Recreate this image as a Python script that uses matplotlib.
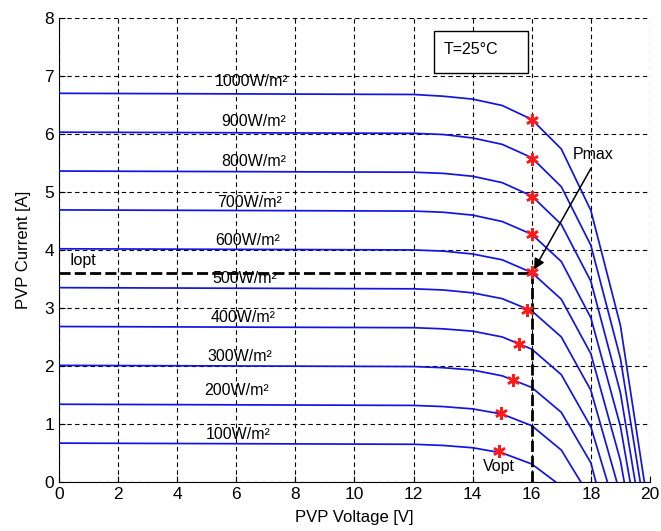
import matplotlib
matplotlib.use("Agg")
import matplotlib.pyplot as plt
from matplotlib.patches import Rectangle

plt.rcParams['font.family'] = ['Liberation Sans', 'DejaVu Sans']

# I-V Kennlinien bei T=25°C
irradiance = [1000, 900, 800, 700, 600, 500, 400, 300, 200, 100]
curve_v = [
    [0, 12, 13, 14, 15, 16, 17, 18, 19, 19.81],
    [0, 12, 13, 14, 15, 16, 17, 18, 19, 19.67],
    [0, 12, 13, 14, 15, 16, 17, 18, 19, 19.50],
    [0, 12, 13, 14, 15, 16, 17, 18, 19, 19.33],
    [0, 12, 13, 14, 15, 16, 17, 18, 19, 19.13],
    [0, 12, 13, 14, 15, 16, 17, 18, 18.88],
    [0, 12, 13, 14, 15, 16, 17, 18, 18.56],
    [0, 12, 13, 14, 15, 16, 17, 18, 18.17],
    [0, 12, 13, 14, 15, 16, 17, 17.66],
    [0, 12, 13, 14, 15, 16, 16.81],
]
curve_i = [
    [6.70, 6.68, 6.65, 6.60, 6.49, 6.25, 5.74, 4.68, 2.70, 0],
    [6.03, 6.01, 5.99, 5.93, 5.82, 5.59, 5.09, 4.08, 2.13, 0],
    [5.36, 5.34, 5.32, 5.27, 5.16, 4.93, 4.44, 3.46, 1.54, 0],
    [4.69, 4.67, 4.65, 4.60, 4.49, 4.27, 3.80, 2.83, 0.96, 0],
    [4.02, 4.00, 3.98, 3.93, 3.83, 3.61, 3.15, 2.21, 0.37, 0],
    [3.35, 3.33, 3.31, 3.26, 3.16, 2.95, 2.50, 1.58, 0],
    [2.68, 2.66, 2.64, 2.60, 2.50, 2.29, 1.85, 0.95, 0],
    [2.01, 1.99, 1.97, 1.93, 1.83, 1.63, 1.20, 0.33, 0],
    [1.34, 1.32, 1.30, 1.26, 1.17, 0.97, 0.55, 0],
    [0.67, 0.65, 0.63, 0.59, 0.50, 0.31, 0],
]

# Punkte maximaler Leistung
mpp_v = [16.0, 16.0, 16.0, 16.0, 16.0, 15.84, 15.56, 15.36, 14.97, 14.88]
mpp_i = [6.24, 5.56, 4.91, 4.27, 3.62, 2.96, 2.38, 1.75, 1.19, 0.54]

# Beschriftungen der Kurven
label_v = [6.5, 6.6, 6.6, 6.46, 6.37, 6.27, 6.23, 6.11, 6.0, 6.06]
label_i = [6.90, 6.21, 5.52, 4.82, 4.16, 3.50, 2.83, 2.17, 1.58, 0.82]

v_opt = 16.0
i_opt = 3.60

fig = plt.figure(figsize=(6.61, 5.31), dpi=100)
ax = fig.add_axes([0.0893, 0.0923, 0.894, 0.874])

for v, i in zip(curve_v, curve_i):
    ax.plot(v, i, color='#1414e0', lw=1.25, zorder=3)

ax.plot(mpp_v, mpp_i, linestyle='none', marker=(6, 2, 0), color='#ff1a1a',
        markersize=9, mew=1.8, zorder=5)

for g, x, y in zip(irradiance, label_v, label_i):
    ax.text(x, y, f'{g}W/m²', ha='center', va='center', fontsize=11.5, zorder=4)

# Iopt / Vopt
ax.plot([0, v_opt], [i_opt, i_opt], color='k', lw=2, linestyle=(0, (4, 1.5)), zorder=4)
ax.plot([v_opt, v_opt], [0, i_opt], color='k', lw=2, linestyle=(0, (4, 1.5)), zorder=4)
ax.text(0.36, 3.81, 'Iopt', ha='left', va='center', fontsize=11.5)
ax.text(14.9, 0.26, 'Vopt', ha='center', va='center', fontsize=11.5)

# Pmax Pfeil
ax.annotate('', xy=(v_opt + 0.03, i_opt + 0.02), xytext=(18.05, 5.45),
            arrowprops=dict(arrowstyle='-|>', color='k', lw=1.1, mutation_scale=16),
            zorder=6)
ax.text(18.08, 5.64, 'Pmax', ha='center', va='center', fontsize=11.5)

# Temperatur-Box
ax.add_patch(Rectangle((12.68, 7.05), 3.2, 0.72, fill=True, facecolor='white',
                       edgecolor='k', lw=1.0, zorder=4))
ax.text(13.03, 7.45, 'T=25°C', ha='left', va='center', fontsize=11.5, zorder=5)

ax.set_xlim(0, 20)
ax.set_ylim(0, 8)
ax.set_xticks(range(0, 21, 2))
ax.set_yticks(range(0, 9))
ax.tick_params(direction='in', labelsize=12.5, length=4)
ax.grid(True, color='k', linestyle=(0, (4, 3)), lw=0.8)
ax.spines['top'].set_visible(False)
ax.spines['right'].set_visible(False)
ax.set_xlabel('PVP Voltage [V]', fontsize=12, labelpad=6)
ax.set_ylabel('PVP Current [A]', fontsize=12, labelpad=10)

fig.savefig('out.png', dpi=100)
